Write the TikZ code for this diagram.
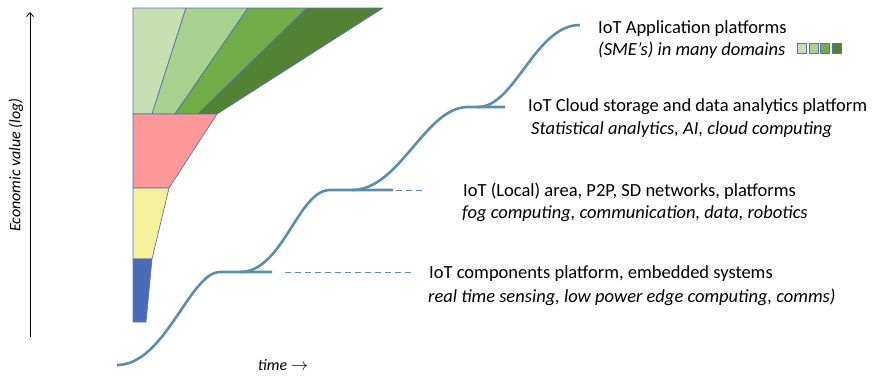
\documentclass[tikz,border=0pt]{standalone}
\usepackage{fontspec}
\usetikzlibrary{arrows.meta}
\setmainfont{Carlito}
\definecolor{gA}{HTML}{C6E0B4}
\definecolor{gB}{HTML}{A9D18E}
\definecolor{gC}{HTML}{70AD47}
\definecolor{gD}{HTML}{548235}
\definecolor{rosa}{HTML}{FF9999}
\definecolor{gelb}{HTML}{F5F19A}
\definecolor{blau}{HTML}{4A6CB8}
\definecolor{rand}{HTML}{5672B4}
\definecolor{kurve}{HTML}{5B8FA9}
\begin{document}
\begin{tikzpicture}[x=1pt,y=-1pt,
  curve/.style={draw=kurve, line width=2.6pt},
  lead/.style={draw=kurve, line width=0.9pt, dash pattern=on 6pt off 4pt},
  band/.style={draw=rand, line width=0.7pt, line join=round},
  lbl/.style={anchor=base west, inner sep=0pt, font=\fontsize{18.5}{23}\selectfont},
  sub/.style={lbl, font=\fontsize{18.5}{23}\selectfont\itshape},
  sq/.style={draw=rand, line width=0.7pt, minimum width=9pt, minimum height=10.5pt, inner sep=0pt},
  axlbl/.style={inner sep=0pt, font=\fontsize{16}{18}\selectfont\itshape}]
  \useasboundingbox (0,0) rectangle (874,375);
  \filldraw[band, fill=gA] (133,8) -- (186,8) -- (152,114) -- (133,114) -- cycle;
  \filldraw[band, fill=gB] (186,8) -- (248,8) -- (175,114) -- (152,114) -- cycle;
  \filldraw[band, fill=gC] (248,8) -- (307,8) -- (198,114) -- (175,114) -- cycle;
  \filldraw[band, fill=gD] (307,8) -- (383,8) -- (217,114) -- (198,114) -- cycle;
  \filldraw[band, fill=rosa] (133,114) -- (217,114) -- (169,188) -- (133,188) -- cycle;
  \filldraw[band, fill=gelb] (133,188) -- (169,188) -- (152,259) -- (133,259) -- cycle;
  \filldraw[band, fill=blau] (133,259) -- (152,259) -- (146,322) -- (133,322) -- cycle;
  \coordinate (ybot) at (30,337);
  \coordinate (ytop) at (30,12);
  \draw[-{Straight Barb[length=4pt,width=7pt]}, line width=0.8pt] (ybot) -- (ytop);
  \node[axlbl, rotate=90] (yaxis) at (16,165) {Economic value (log)};
  \node[axlbl] (xaxis) at (283,365) {time $\rightarrow$};
  \coordinate (s0) at (117,365);
  \coordinate (p1) at (220,272);
  \coordinate (e1) at (272,272);
  \coordinate (b1) at (240,272);
  \coordinate (p2) at (330,190);
  \coordinate (e2) at (393,190);
  \coordinate (b2) at (352,190);
  \coordinate (p3) at (468,107);
  \coordinate (e3) at (505,107);
  \coordinate (b3) at (478,107);
  \coordinate (p4) at (580,25);
  \draw[curve] (s0) .. controls (165,365) and (190,272) .. (p1) -- (e1);
  \draw[curve] (b1) .. controls (283,272) and (298,190) .. (p2) -- (e2);
  \draw[curve] (b2) .. controls (400,190) and (425,107) .. (p3) -- (e3);
  \draw[curve] (b3) .. controls (515,107) and (535,25) .. (p4);
  \coordinate (l1a) at (285,272);
  \coordinate (l1b) at (413,272);
  \coordinate (l2a) at (396,190);
  \coordinate (l2b) at (422,190);
  \draw[lead] (l1a) -- (l1b);
  \draw[lead] (l2a) -- (l2b);
  \node[lbl] (app) at (598,33) {IoT Application platforms};
  \node[sub] (appsub) at (598,55) {(SME’s) in many domains};
  \node[sq, fill=gA] (sqa) at (802,48.5) {};
  \node[sq, fill=gB] (sqb) at (813.5,48.5) {};
  \node[sq, fill=gC] (sqc) at (825,48.5) {};
  \node[sq, fill=gD] (sqd) at (836.5,48.5) {};
  \node[lbl] (cloud) at (528,111) {IoT Cloud storage and data analytics platform};
  \node[sub] (cloudsub) at (531,134) {Statistical analytics, AI, cloud computing};
  \node[lbl] (local) at (463,196) {IoT (Local) area, P2P, SD networks, platforms};
  \node[sub] (localsub) at (462,218) {fog computing, communication, data, robotics};
  \node[lbl] (comp) at (429,278) {IoT components platform, embedded systems};
  \node[sub] (compsub) at (428,302) {real time sensing, low power edge computing, comms)};
\end{tikzpicture}
\end{document}
